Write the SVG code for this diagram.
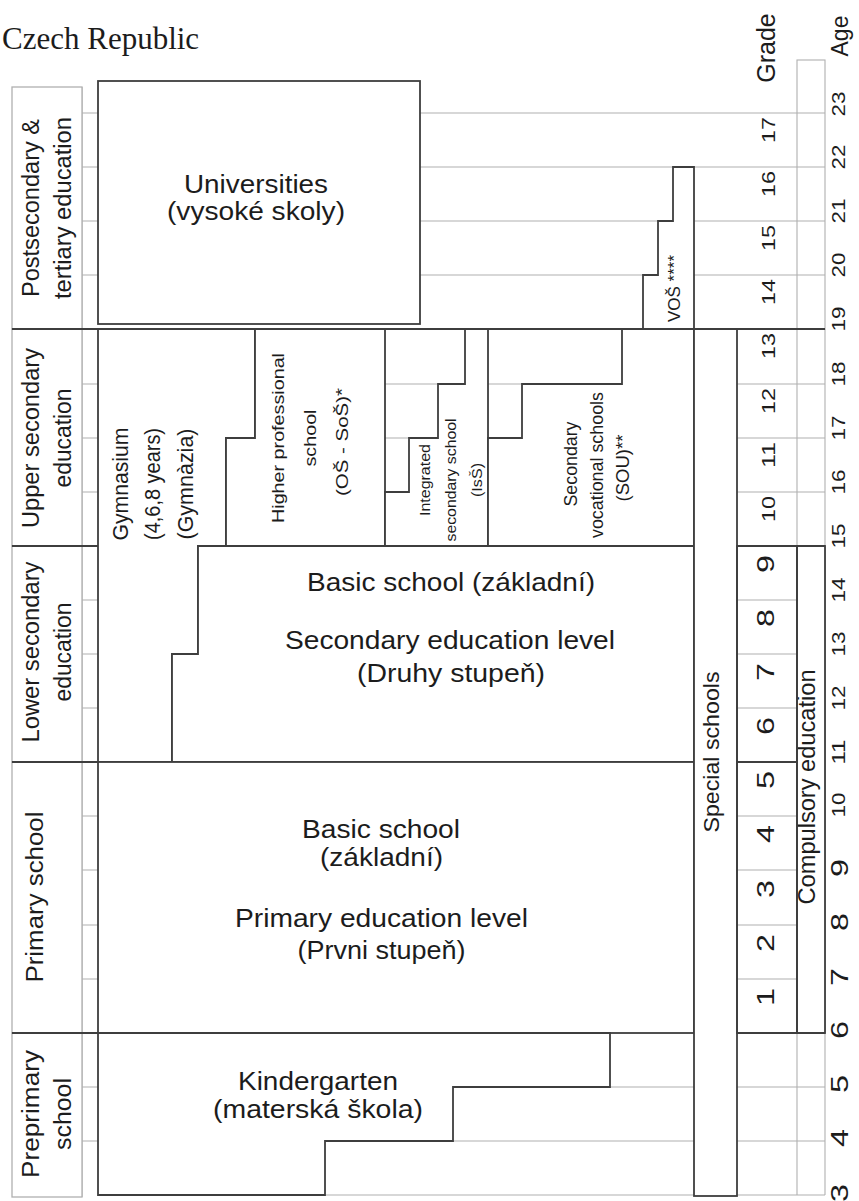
<svg xmlns="http://www.w3.org/2000/svg" width="859" height="1201" viewBox="0 0 859 1201">
  <style>
    .bg { fill: #ffffff; }
    .grid { stroke: #b0b0b0; stroke-width: 1.1; fill: none; }
    .lbox { fill: #ffffff; stroke: #b0b0b0; stroke-width: 1.3; }
    .box { fill: #ffffff; stroke: #3e3e3e; stroke-width: 1.8; stroke-linejoin: miter; }
    .frame { fill: none; stroke: #3e3e3e; stroke-width: 1.8; }
    .sep { stroke: #3e3e3e; stroke-width: 1.8; fill: none; }
    text { font-family: "Liberation Sans", Arial, Helvetica, sans-serif; fill: #1c1c1c; }
    .h { font-size: 25px; text-anchor: middle; }
    .side { font-size: 23px; text-anchor: middle; }
    .mid { text-anchor: middle; }
    .num2 { font-size: 18.6px; text-anchor: middle; }
    .num1 { font-size: 23px; text-anchor: middle; }
    .title { font-family: "Liberation Serif", "Times New Roman", serif; font-size: 31px; fill: #1c1c1c; }
  </style>

  <rect class="bg" x="0" y="0" width="859" height="1201"/>

  <text class="title" x="2" y="49">Czech Republic</text>

  <!-- light age grid: one line per year of age -->
  <g id="age-grid" class="grid">
    <line x1="82" y1="113" x2="825" y2="113"/>
    <line x1="82" y1="167" x2="825" y2="167"/>
    <line x1="82" y1="221" x2="825" y2="221"/>
    <line x1="82" y1="275" x2="825" y2="275"/>
    <line x1="82" y1="384" x2="825" y2="384"/>
    <line x1="82" y1="438" x2="825" y2="438"/>
    <line x1="82" y1="492" x2="825" y2="492"/>
    <line x1="82" y1="600" x2="825" y2="600"/>
    <line x1="82" y1="654" x2="825" y2="654"/>
    <line x1="82" y1="708" x2="825" y2="708"/>
    <line x1="82" y1="816" x2="825" y2="816"/>
    <line x1="82" y1="870" x2="825" y2="870"/>
    <line x1="82" y1="925" x2="825" y2="925"/>
    <line x1="82" y1="979" x2="825" y2="979"/>
    <line x1="82" y1="1087" x2="825" y2="1087"/>
    <line x1="82" y1="1141" x2="825" y2="1141"/>
    <line x1="98" y1="1195" x2="825" y2="1195"/>
    <line x1="82" y1="87" x2="82" y2="1197"/>
    <rect x="797" y="60" width="28" height="269"/>
    <line x1="797" y1="329" x2="797" y2="1195"/>
    <line x1="825" y1="329" x2="825" y2="1195"/>
  </g>

  <!-- level labels on the left -->
  <g id="level-postsecondary">
    <rect class="lbox" x="12" y="87" width="70" height="242"/>
    <text class="side" transform="translate(38.5,208) rotate(-90)" textLength="178" lengthAdjust="spacingAndGlyphs">Postsecondary &amp;</text>
    <text class="side" transform="translate(70.5,208) rotate(-90)" textLength="182" lengthAdjust="spacingAndGlyphs">tertiary education</text>
  </g>
  <g id="level-upper-secondary">
    <rect class="lbox" x="12" y="329" width="70" height="217"/>
    <text class="side" transform="translate(38.5,438) rotate(-90)" textLength="180" lengthAdjust="spacingAndGlyphs">Upper secondary</text>
    <text class="side" transform="translate(70.5,438) rotate(-90)" textLength="99" lengthAdjust="spacingAndGlyphs">education</text>
  </g>
  <g id="level-lower-secondary">
    <rect class="lbox" x="12" y="546" width="70" height="216"/>
    <text class="side" transform="translate(38.5,652) rotate(-90)" textLength="181" lengthAdjust="spacingAndGlyphs">Lower secondary</text>
    <text class="side" transform="translate(70.5,652) rotate(-90)" textLength="99" lengthAdjust="spacingAndGlyphs">education</text>
  </g>
  <g id="level-primary">
    <rect class="lbox" x="12" y="762" width="70" height="271"/>
    <text class="side" transform="translate(43,897) rotate(-90)" textLength="171" lengthAdjust="spacingAndGlyphs">Primary school</text>
  </g>
  <g id="level-preprimary">
    <rect class="lbox" x="12" y="1033" width="70" height="164"/>
    <text class="side" transform="translate(38.5,1114) rotate(-90)" textLength="128" lengthAdjust="spacingAndGlyphs">Preprimary</text>
    <text class="side" transform="translate(70.5,1114) rotate(-90)" textLength="72" lengthAdjust="spacingAndGlyphs">school</text>
  </g>

  <!-- school types -->
  <g id="universities">
    <rect class="box" x="98" y="81" width="322" height="243"/>
    <text class="h" x="256" y="193" textLength="144" lengthAdjust="spacingAndGlyphs">Universities</text>
    <text class="h" x="256" y="220" textLength="178" lengthAdjust="spacingAndGlyphs">(vysoké skoly)</text>
  </g>

  <g id="vos">
    <polygon class="box" points="643,329 643,275 658,275 658,221 673,221 673,167 694,167 694,329"/>
    <text font-size="17" transform="translate(680,322) rotate(-90)">VOŠ ****</text>
  </g>

  <g id="gymnasium">
    <polygon class="box" points="98,329 255,329 255,438 226,438 226,546 198,546 198,654 172,654 172,762 98,762"/>
    <text class="mid" font-size="21.5" transform="translate(127.5,484) rotate(-90)" textLength="113" lengthAdjust="spacingAndGlyphs">Gymnasium</text>
    <text class="mid" font-size="21.5" transform="translate(160,484) rotate(-90)" textLength="112" lengthAdjust="spacingAndGlyphs">(4,6,8 years)</text>
    <text class="mid" font-size="21.5" transform="translate(193,484) rotate(-90)" textLength="111" lengthAdjust="spacingAndGlyphs">(Gymnàzia)</text>
  </g>

  <g id="higher-professional">
    <polygon class="box" points="255,329 385,329 385,546 226,546 226,438 255,438"/>
    <text class="mid" font-size="17" transform="translate(284,438) rotate(-90)" textLength="170" lengthAdjust="spacingAndGlyphs">Higher professional</text>
    <text class="mid" font-size="17" transform="translate(316,438) rotate(-90)" textLength="57" lengthAdjust="spacingAndGlyphs">school</text>
    <text class="mid" font-size="17" transform="translate(348,442) rotate(-90)" textLength="108" lengthAdjust="spacingAndGlyphs">(OŠ - SoŠ)*</text>
  </g>

  <g id="integrated-secondary">
    <polygon class="box" points="385,546 385,492 409,492 409,438 438,438 438,384 465,384 465,329 488,329 488,546"/>
    <text class="mid" font-size="14" transform="translate(430,480) rotate(-90)" textLength="72" lengthAdjust="spacingAndGlyphs">Integrated</text>
    <text class="mid" font-size="14" transform="translate(456,480) rotate(-90)" textLength="123" lengthAdjust="spacingAndGlyphs">secondary school</text>
    <text class="mid" font-size="14" transform="translate(482,480) rotate(-90)" textLength="34" lengthAdjust="spacingAndGlyphs">(IsŠ)</text>
  </g>

  <g id="secondary-vocational">
    <polygon class="box" points="488,546 488,438 522,438 522,384 622,384 622,329 694,329 694,546"/>
    <text class="mid" font-size="18.5" transform="translate(576.5,464) rotate(-90)" textLength="85" lengthAdjust="spacingAndGlyphs">Secondary</text>
    <text class="mid" font-size="18.5" transform="translate(602.5,465) rotate(-90)" textLength="146" lengthAdjust="spacingAndGlyphs">vocational schools</text>
    <text class="mid" font-size="18.5" transform="translate(628.5,468) rotate(-90)">(SOU)**</text>
  </g>

  <g id="basic-lower">
    <polygon class="box" points="198,546 694,546 694,762 172,762 172,654 198,654"/>
    <text class="h" x="451" y="591" textLength="288" lengthAdjust="spacingAndGlyphs">Basic school (základní)</text>
    <text class="h" x="450" y="649" textLength="330" lengthAdjust="spacingAndGlyphs">Secondary education level</text>
    <text class="h" x="451" y="682" textLength="188" lengthAdjust="spacingAndGlyphs">(Druhy stupeň)</text>
  </g>

  <g id="basic-primary">
    <rect class="box" x="98" y="762" width="596" height="271"/>
    <text class="h" x="381" y="838" textLength="158" lengthAdjust="spacingAndGlyphs">Basic school</text>
    <text class="h" x="381.5" y="866" textLength="123" lengthAdjust="spacingAndGlyphs">(základní)</text>
    <text class="h" x="381.5" y="927" textLength="293" lengthAdjust="spacingAndGlyphs">Primary education level</text>
    <text class="h" x="381.5" y="959" textLength="168" lengthAdjust="spacingAndGlyphs">(Prvni stupeň)</text>
  </g>

  <g id="kindergarten">
    <polygon class="box" points="98,1033 610,1033 610,1087 453,1087 453,1141 325,1141 325,1195 98,1195"/>
    <text class="h" x="318" y="1090" textLength="160" lengthAdjust="spacingAndGlyphs">Kindergarten</text>
    <text class="h" x="318" y="1118" textLength="210" lengthAdjust="spacingAndGlyphs">(materská škola)</text>
  </g>

  <g id="special-schools">
    <rect class="box" x="694" y="329" width="43" height="867"/>
    <text class="mid" font-size="21.5" transform="translate(718.5,752) rotate(-90)" textLength="161" lengthAdjust="spacingAndGlyphs">Special schools</text>
  </g>

  <g id="compulsory-education">
    <rect class="box" x="797" y="546" width="28" height="487"/>
    <text class="mid" font-size="23" transform="translate(814.5,787) rotate(-90)" textLength="235" lengthAdjust="spacingAndGlyphs">Compulsory education</text>
  </g>

  <!-- level boundaries and grade frames -->
  <g id="boundaries" class="sep">
    <line x1="12" y1="329" x2="825" y2="329"/>
    <line x1="12" y1="546" x2="98" y2="546"/>
    <line x1="737" y1="546" x2="825" y2="546"/>
    <line x1="12" y1="762" x2="98" y2="762"/>
    <line x1="12" y1="1033" x2="98" y2="1033"/>
    <line x1="737" y1="1033" x2="825" y2="1033"/>
    <rect class="frame" x="737" y="546" width="60" height="216"/>
    <rect class="frame" x="737" y="762" width="60" height="271"/>
  </g>

  <!-- grade numbers -->
  <g id="grades">
    <text font-size="25" class="mid" transform="translate(775,48) rotate(-90)">Grade</text>
    <text class="num2" transform="translate(775,130) rotate(-90)" textLength="26" lengthAdjust="spacingAndGlyphs">17</text>
    <text class="num2" transform="translate(775,184) rotate(-90)" textLength="26" lengthAdjust="spacingAndGlyphs">16</text>
    <text class="num2" transform="translate(775,238) rotate(-90)" textLength="26" lengthAdjust="spacingAndGlyphs">15</text>
    <text class="num2" transform="translate(775,292) rotate(-90)" textLength="26" lengthAdjust="spacingAndGlyphs">14</text>
    <text class="num2" transform="translate(775,346) rotate(-90)" textLength="26" lengthAdjust="spacingAndGlyphs">13</text>
    <text class="num2" transform="translate(775,401) rotate(-90)" textLength="26" lengthAdjust="spacingAndGlyphs">12</text>
    <text class="num2" transform="translate(775,455) rotate(-90)" textLength="26" lengthAdjust="spacingAndGlyphs">11</text>
    <text class="num2" transform="translate(775,509) rotate(-90)" textLength="26" lengthAdjust="spacingAndGlyphs">10</text>
    <text class="num1" transform="translate(774,564) rotate(-90)" textLength="18" lengthAdjust="spacingAndGlyphs">9</text>
    <text class="num1" transform="translate(774,618) rotate(-90)" textLength="18" lengthAdjust="spacingAndGlyphs">8</text>
    <text class="num1" transform="translate(774,672) rotate(-90)" textLength="18" lengthAdjust="spacingAndGlyphs">7</text>
    <text class="num1" transform="translate(774,726) rotate(-90)" textLength="18" lengthAdjust="spacingAndGlyphs">6</text>
    <text class="num1" transform="translate(774,780) rotate(-90)" textLength="18" lengthAdjust="spacingAndGlyphs">5</text>
    <text class="num1" transform="translate(774,834) rotate(-90)" textLength="18" lengthAdjust="spacingAndGlyphs">4</text>
    <text class="num1" transform="translate(774,889) rotate(-90)" textLength="18" lengthAdjust="spacingAndGlyphs">3</text>
    <text class="num1" transform="translate(774,943) rotate(-90)" textLength="18" lengthAdjust="spacingAndGlyphs">2</text>
    <text class="num1" transform="translate(774,997) rotate(-90)" textLength="18" lengthAdjust="spacingAndGlyphs">1</text>
  </g>

  <!-- ages at each year line -->
  <g id="ages">
    <text font-size="23" class="mid" transform="translate(848,36) rotate(-90)">Age</text>
    <text class="num2" transform="translate(845,104) rotate(-90)" textLength="25" lengthAdjust="spacingAndGlyphs">23</text>
    <text class="num2" transform="translate(845,157) rotate(-90)" textLength="25" lengthAdjust="spacingAndGlyphs">22</text>
    <text class="num2" transform="translate(845,211) rotate(-90)" textLength="25" lengthAdjust="spacingAndGlyphs">21</text>
    <text class="num2" transform="translate(845,265) rotate(-90)" textLength="25" lengthAdjust="spacingAndGlyphs">20</text>
    <text class="num2" transform="translate(845,319) rotate(-90)" textLength="25" lengthAdjust="spacingAndGlyphs">19</text>
    <text class="num2" transform="translate(845,374) rotate(-90)" textLength="25" lengthAdjust="spacingAndGlyphs">18</text>
    <text class="num2" transform="translate(845,428) rotate(-90)" textLength="25" lengthAdjust="spacingAndGlyphs">17</text>
    <text class="num2" transform="translate(845,482) rotate(-90)" textLength="25" lengthAdjust="spacingAndGlyphs">16</text>
    <text class="num2" transform="translate(845,536) rotate(-90)" textLength="25" lengthAdjust="spacingAndGlyphs">15</text>
    <text class="num2" transform="translate(845,590) rotate(-90)" textLength="25" lengthAdjust="spacingAndGlyphs">14</text>
    <text class="num2" transform="translate(845,644) rotate(-90)" textLength="25" lengthAdjust="spacingAndGlyphs">13</text>
    <text class="num2" transform="translate(845,698) rotate(-90)" textLength="25" lengthAdjust="spacingAndGlyphs">12</text>
    <text class="num2" transform="translate(845,752) rotate(-90)" textLength="25" lengthAdjust="spacingAndGlyphs">11</text>
    <text class="num2" transform="translate(845,805) rotate(-90)" textLength="25" lengthAdjust="spacingAndGlyphs">10</text>
    <text class="num1" transform="translate(848,868) rotate(-90)" textLength="18" lengthAdjust="spacingAndGlyphs">9</text>
    <text class="num1" transform="translate(848,922) rotate(-90)" textLength="18" lengthAdjust="spacingAndGlyphs">8</text>
    <text class="num1" transform="translate(848,977) rotate(-90)" textLength="18" lengthAdjust="spacingAndGlyphs">7</text>
    <text class="num1" transform="translate(848,1030) rotate(-90)" textLength="18" lengthAdjust="spacingAndGlyphs">6</text>
    <text class="num1" transform="translate(848,1084) rotate(-90)" textLength="18" lengthAdjust="spacingAndGlyphs">5</text>
    <text class="num1" transform="translate(848,1138) rotate(-90)" textLength="18" lengthAdjust="spacingAndGlyphs">4</text>
    <text class="num1" transform="translate(848,1193) rotate(-90)" textLength="18" lengthAdjust="spacingAndGlyphs">3</text>
  </g>
</svg>
